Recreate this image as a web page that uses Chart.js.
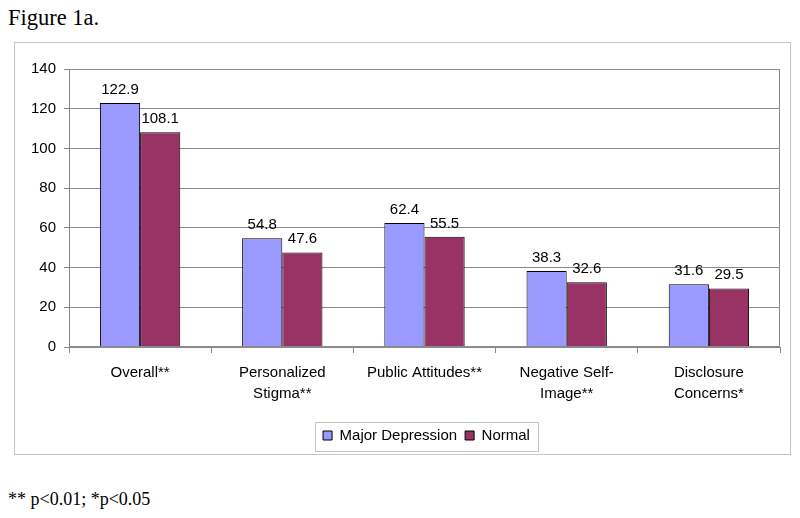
<!DOCTYPE html>
<html>
<head>
<meta charset="utf-8">
<script src="https://cdn.jsdelivr.net/npm/chart.js@4/dist/chart.umd.min.js"></script>
<style>
  html, body { margin: 0; padding: 0; background: #ffffff; }
  body { width: 800px; height: 518px; position: relative; overflow: hidden; }
  #title { position: absolute; left: 8px; top: 7px; font-family: "Liberation Serif", "Times New Roman", serif; font-size: 22.5px; line-height: 22px; color: #000; white-space: nowrap; }
  #note { position: absolute; left: 8px; top: 490px; font-family: "Liberation Serif", "Times New Roman", serif; font-size: 18px; line-height: 18px; color: #000; white-space: nowrap; }
  #wrap { position: absolute; left: 14px; top: 42px; width: 777px; height: 413px; }
</style>
</head>
<body>
<div id="title">Figure 1a.</div>
<div id="wrap"><canvas id="c" width="777" height="413"></canvas></div>
<div id="note">** p&lt;0.01; *p&lt;0.05</div>
<script>
const categories = [
  ["Overall**"],
  ["Personalized", "Stigma**"],
  ["Public Attitudes**"],
  ["Negative Self-", "Image**"],
  ["Disclosure", "Concerns*"]
];
const seriesNames = ["Major Depression", "Normal"];
const majorDepression = [122.9, 54.8, 62.4, 38.3, 31.6];
const normal = [108.1, 47.6, 55.5, 32.6, 29.5];
const yTicks = [0, 20, 40, 60, 80, 100, 120, 140];

const FONT = "'Liberation Sans', Arial, sans-serif";

const decor = {
  id: 'decor',
  afterLayout(chart) {
    // centre the legend under the plot area rather than the whole canvas
    const lg = chart.legend;
    const a = chart.chartArea;
    if (lg) {
      const shift = (a.left + a.right) / 2 - (lg.left + lg.right) / 2 + 2;
      lg.left += shift;
      lg.right += shift;
    }
  },
  afterDraw(chart) {
    const ctx = chart.ctx;
    const a = chart.chartArea;
    ctx.save();
    // outer frame
    ctx.strokeStyle = '#c4c4c4';
    ctx.lineWidth = 1;
    ctx.strokeRect(0.5, 0.5, chart.width - 1, chart.height - 1);
    // plot frame
    ctx.strokeStyle = '#8a8a8a';
    ctx.strokeRect(Math.round(a.left) + 0.5, Math.round(a.top) + 0.5, Math.round(a.right - a.left) - 1, Math.round(a.bottom - a.top) - 1);
    // value labels
    ctx.fillStyle = '#000';
    ctx.font = '15px ' + FONT;
    ctx.textAlign = 'center';
    ctx.textBaseline = 'alphabetic';
    chart.data.datasets.forEach((ds, di) => {
      const meta = chart.getDatasetMeta(di);
      meta.data.forEach((bar, i) => {
        ctx.fillText(ds.data[i].toFixed(1), bar.x, bar.y - 9);
      });
    });
    // legend frame
    const lg = chart.legend;
    if (lg && lg.legendHitBoxes && lg.legendHitBoxes.length) {
      const hb = lg.legendHitBoxes;
      const l = Math.min(...hb.map(h => h.left));
      const r = Math.max(...hb.map(h => h.left + h.width));
      const cy = hb[0].top + hb[0].height / 2;
      ctx.strokeStyle = '#c4c4c4';
      ctx.strokeRect(Math.round(l - 8) + 0.5, Math.round(cy - 14) + 0.5, Math.round(r - l + 16), 29);
    }
    ctx.restore();
  }
};

new Chart(document.getElementById('c'), {
  type: 'bar',
  data: {
    labels: categories,
    datasets: [
      { label: seriesNames[0], data: majorDepression, backgroundColor: '#9999ff', borderColor: '#000000', borderWidth: 1 },
      { label: seriesNames[1], data: normal, backgroundColor: '#993366', borderColor: '#000000', borderWidth: 1 }
    ]
  },
  options: {
    responsive: false,
    animation: false,
    devicePixelRatio: 1,
    layout: { padding: { left: 0, right: 11, top: 27, bottom: 2 } },
    datasets: { bar: { categoryPercentage: 0.565, barPercentage: 1.0 } },
    plugins: {
      legend: {
        position: 'bottom',
        labels: {
          boxWidth: 9, boxHeight: 9, padding: 8,
          color: '#000', font: { family: FONT, size: 15 }
        }
      },
      tooltip: { enabled: false }
    },
    scales: {
      x: {
        grid: { display: true, drawOnChartArea: false, drawTicks: true, tickLength: 6, offset: true, color: '#8a8a8a' },
        border: { display: true, color: '#8a8a8a' },
        ticks: { color: '#000', font: { family: FONT, size: 15, lineHeight: 1.4 }, padding: 9, maxRotation: 0, autoSkip: false },
        afterFit(s) { s.height = 73; }
      },
      y: {
        min: 0, max: 140,
        afterBuildTicks(s) { s.ticks = yTicks.map(v => ({ value: v })); },
        grid: { color: '#8a8a8a', drawTicks: true, tickLength: 5 },
        border: { display: true, color: '#8a8a8a' },
        ticks: { color: '#000', font: { family: FONT, size: 15 }, padding: 8 },
        afterFit(s) { s.width = 55; }
      }
    }
  },
  plugins: [decor]
});
</script>
</body>
</html>
